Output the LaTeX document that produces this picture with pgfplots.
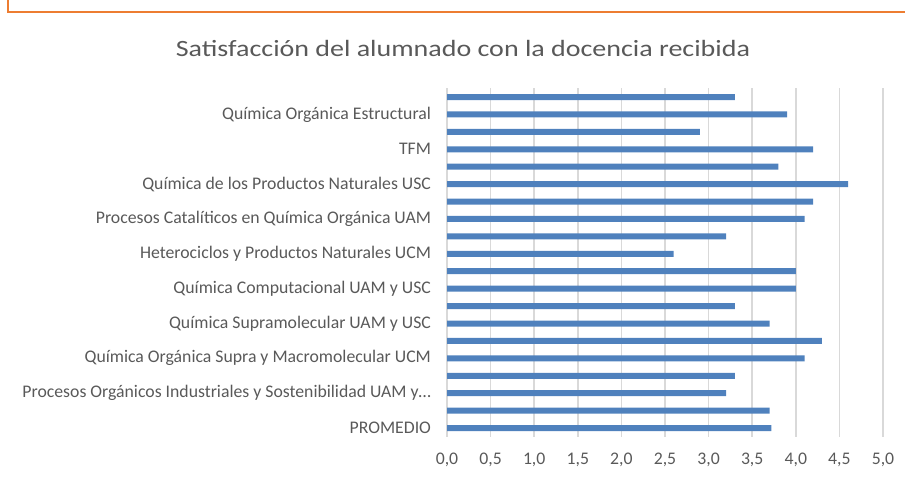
\documentclass[border=0pt]{standalone}
\usepackage{fontspec}
\setmainfont{Carlito}
\usepackage{pgfplots}
\pgfplotsset{compat=1.18}
\definecolor{barblue}{HTML}{4F81BD}
\definecolor{txtgray}{HTML}{595959}
\definecolor{gridgray}{HTML}{D9D9D9}
\definecolor{frameorange}{HTML}{ED7D31}

\begin{document}
\begin{tikzpicture}
\useasboundingbox (0pt,0pt) rectangle (678.75pt,357.75pt);
% frame of the screenshot
\draw[frameorange, line width=1.5pt] (6pt,357.75pt) -- (6pt,348.75pt) -- (678.75pt,348.75pt);
\node[txtgray, font=\fontsize{17.5}{20}\selectfont] at (347.25pt,321.75pt)
  {\scalebox{1.2}[1]{Satisfacción del alumnado con la docencia recibida}};
\begin{axis}[
    at={(335.25pt,30.2pt)}, anchor=south west,
    scale only axis,
    width=327pt, height=261.3pt,
    xbar,
    bar width=4.5pt,
    xmin=0, xmax=5,
    ymin=-0.5, ymax=19.5,
    xtick={0,0.5,...,5},
    ytick={0,2,...,18},
    yticklabels={
      PROMEDIO,
      Procesos Orgánicos Industriales y Sostenibilidad UAM y…,
      Química Orgánica Supra y Macromolecular UCM,
      Química Supramolecular UAM y USC,
      Química Computacional UAM y USC,
      Heterociclos y Productos Naturales UCM,
      Procesos Catalíticos en Química Orgánica UAM,
      Química de los Productos Naturales USC,
      TFM,
      Química Orgánica Estructural},
    major tick length=0pt,
    axis line style={draw=none},
    xmajorgrids,
    major grid style={draw=gridgray, line width=1.1pt},
    tick label style={font=\fontsize{13.3}{16}\selectfont, text=txtgray},
    yticklabel style={xshift=-8.5pt},
    xticklabel style={yshift=-8.5pt},
    /pgf/number format/.cd, fixed, fixed zerofill, precision=1, use comma,
      assume math mode=true,
]
% bars listed from the top of the chart down
\addplot[fill=barblue, draw=none] coordinates {
  (3.3,19) (3.9,18) (2.9,17) (4.2,16) (3.8,15)
  (4.6,14) (4.2,13) (4.1,12) (3.2,11) (2.6,10)
  (4.0,9) (4.0,8) (3.3,7) (3.7,6) (4.3,5)
  (4.1,4) (3.3,3) (3.2,2) (3.7,1) (3.72,0)
};
\end{axis}
\end{tikzpicture}
\end{document}
